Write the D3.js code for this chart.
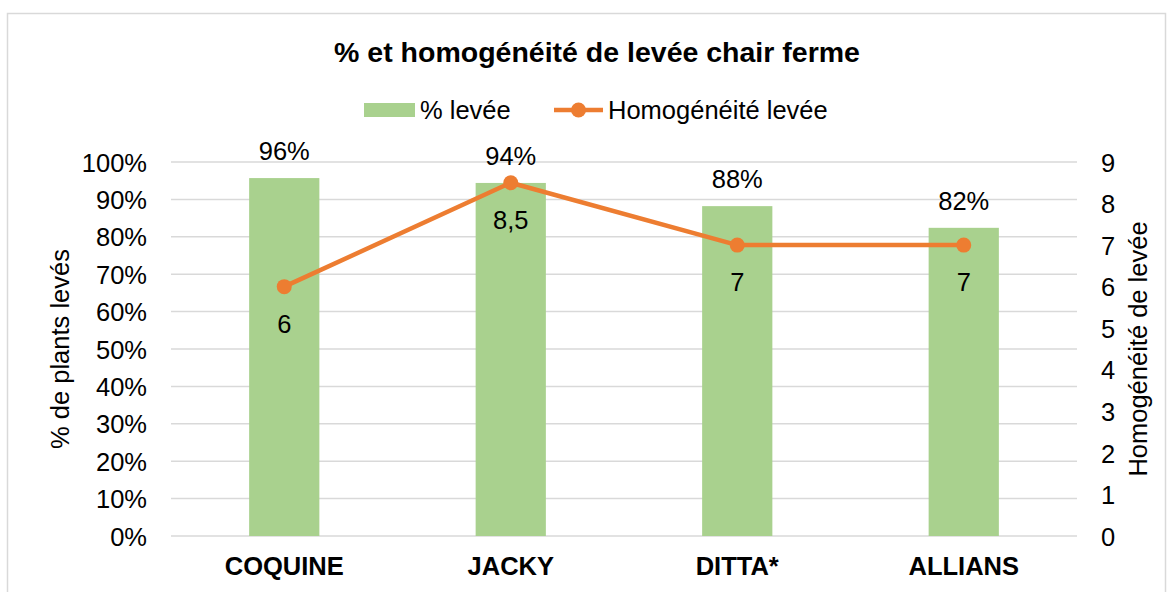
<!DOCTYPE html>
<html>
<head>
<meta charset="utf-8">
<script src="https://cdn.jsdelivr.net/npm/d3@7"></script>
<style>
  body { margin: 0; background: #fff; }
  text { font-family: "Liberation Sans", Arial, sans-serif; fill: #000; }
</style>
</head>
<body>
<div id="chart"></div>
<script>
const categories = ["COQUINE", "JACKY", "DITTA*", "ALLIANS"];
const levee = [95.7, 94.4, 88.2, 82.4];
const leveeLabels = ["96%", "94%", "88%", "82%"];
const homog = [6, 8.5, 7, 7];
const homogLabels = ["6", "8,5", "7", "7"];
const leftTicks = [0, 10, 20, 30, 40, 50, 60, 70, 80, 90, 100];
const rightTicks = [0, 1, 2, 3, 4, 5, 6, 7, 8, 9];

const WIDTH = 1173, HEIGHT = 592;
const margins = { top: 162, bottom: 56, left: 171, right: 96 };
const FS = "25.5px";

const svg = d3.select("#chart").append("svg")
  .attr("width", WIDTH).attr("height", HEIGHT);

// cadre
svg.append("rect")
  .attr("x", 7.5).attr("y", 13.5)
  .attr("width", 1158).attr("height", 600)
  .attr("fill", "none").attr("stroke", "#d9d9d9").attr("stroke-width", 1.5);

const x = d3.scaleBand()
  .domain(categories)
  .range([margins.left, WIDTH - margins.right])
  .paddingInner(0.69).paddingOuter(0.345);

const y = d3.scaleLinear().domain([0, 100]).range([HEIGHT - margins.bottom, margins.top]);
const y2 = d3.scaleLinear().domain([0, 9]).range([HEIGHT - margins.bottom, margins.top]);

// grille
svg.append("g")
  .selectAll("line")
  .data(leftTicks)
  .join("line")
  .attr("x1", margins.left).attr("x2", WIDTH - margins.right)
  .attr("y1", d => y(d)).attr("y2", d => y(d))
  .attr("stroke", "#d9d9d9").attr("stroke-width", 1.5);

// axe gauche
const axeG = svg.append("g")
  .attr("transform", `translate(${margins.left},0)`)
  .call(d3.axisLeft(y).tickValues(leftTicks).tickFormat(d => d + "%").tickSize(0).tickPadding(24));
axeG.select(".domain").remove();
axeG.selectAll("text").style("font-size", FS).style("font-family", "Liberation Sans, Arial, sans-serif")
  .attr("dy", "0.36em");

// axe droit
const axeD = svg.append("g")
  .attr("transform", `translate(${WIDTH - margins.right},0)`)
  .call(d3.axisRight(y2).tickValues(rightTicks).tickSize(0).tickPadding(24));
axeD.select(".domain").remove();
axeD.selectAll("text").style("font-size", FS).style("font-family", "Liberation Sans, Arial, sans-serif")
  .attr("dy", "0.36em");

// barres
svg.append("g")
  .selectAll("rect")
  .data(levee)
  .join("rect")
  .attr("x", (d, i) => x(categories[i]))
  .attr("y", d => y(d))
  .attr("width", x.bandwidth())
  .attr("height", d => y(0) - y(d))
  .attr("fill", "#a9d18e");

svg.append("g")
  .selectAll("text")
  .data(levee)
  .join("text")
  .attr("x", (d, i) => x(categories[i]) + x.bandwidth() / 2)
  .attr("y", d => y(d) - 18)
  .attr("text-anchor", "middle")
  .style("font-size", FS)
  .text((d, i) => leveeLabels[i]);

// catégories
svg.append("g")
  .selectAll("text")
  .data(categories)
  .join("text")
  .attr("x", d => x(d) + x.bandwidth() / 2)
  .attr("y", 575)
  .attr("text-anchor", "middle")
  .style("font-size", FS).style("font-weight", "bold")
  .text(d => d);

// ligne
const cx = (i) => x(categories[i]) + x.bandwidth() / 2;
const ligne = d3.line().x((d, i) => cx(i)).y(d => y2(d));
svg.append("path")
  .datum(homog)
  .attr("d", ligne)
  .attr("fill", "none").attr("stroke", "#ed7d31").attr("stroke-width", 4.5)
  .attr("stroke-linejoin", "round");

svg.append("g")
  .selectAll("circle")
  .data(homog)
  .join("circle")
  .attr("cx", (d, i) => cx(i))
  .attr("cy", d => y2(d))
  .attr("r", 7.5)
  .attr("fill", "#ed7d31");

svg.append("g")
  .selectAll("text")
  .data(homog)
  .join("text")
  .attr("x", (d, i) => cx(i))
  .attr("y", d => y2(d) + 46)
  .attr("text-anchor", "middle")
  .style("font-size", FS)
  .text((d, i) => homogLabels[i]);

// titre
svg.append("text")
  .attr("x", 597).attr("y", 62)
  .attr("text-anchor", "middle")
  .style("font-size", "28.5px").style("font-weight", "bold")
  .text("% et homogénéité de levée chair ferme");

// légende
const leg = svg.append("g");
leg.append("rect").attr("x", 364).attr("y", 103).attr("width", 51).attr("height", 14).attr("fill", "#a9d18e");
leg.append("text").attr("x", 420).attr("y", 119).style("font-size", FS).text("% levée");
leg.append("line").attr("x1", 554).attr("x2", 603).attr("y1", 110).attr("y2", 110)
  .attr("stroke", "#ed7d31").attr("stroke-width", 4.5);
leg.append("circle").attr("cx", 578.5).attr("cy", 110).attr("r", 7.5).attr("fill", "#ed7d31");
leg.append("text").attr("x", 608).attr("y", 119).style("font-size", FS).text("Homogénéité levée");

// titres des axes
svg.append("text")
  .attr("transform", `translate(69,${(y(0) + y(100)) / 2}) rotate(-90)`)
  .attr("text-anchor", "middle")
  .style("font-size", FS)
  .text("% de plants levés");

svg.append("text")
  .attr("transform", `translate(1147,${(y(0) + y(100)) / 2}) rotate(-90)`)
  .attr("text-anchor", "middle")
  .style("font-size", FS)
  .text("Homogénéité de levée");
</script>
</body>
</html>
